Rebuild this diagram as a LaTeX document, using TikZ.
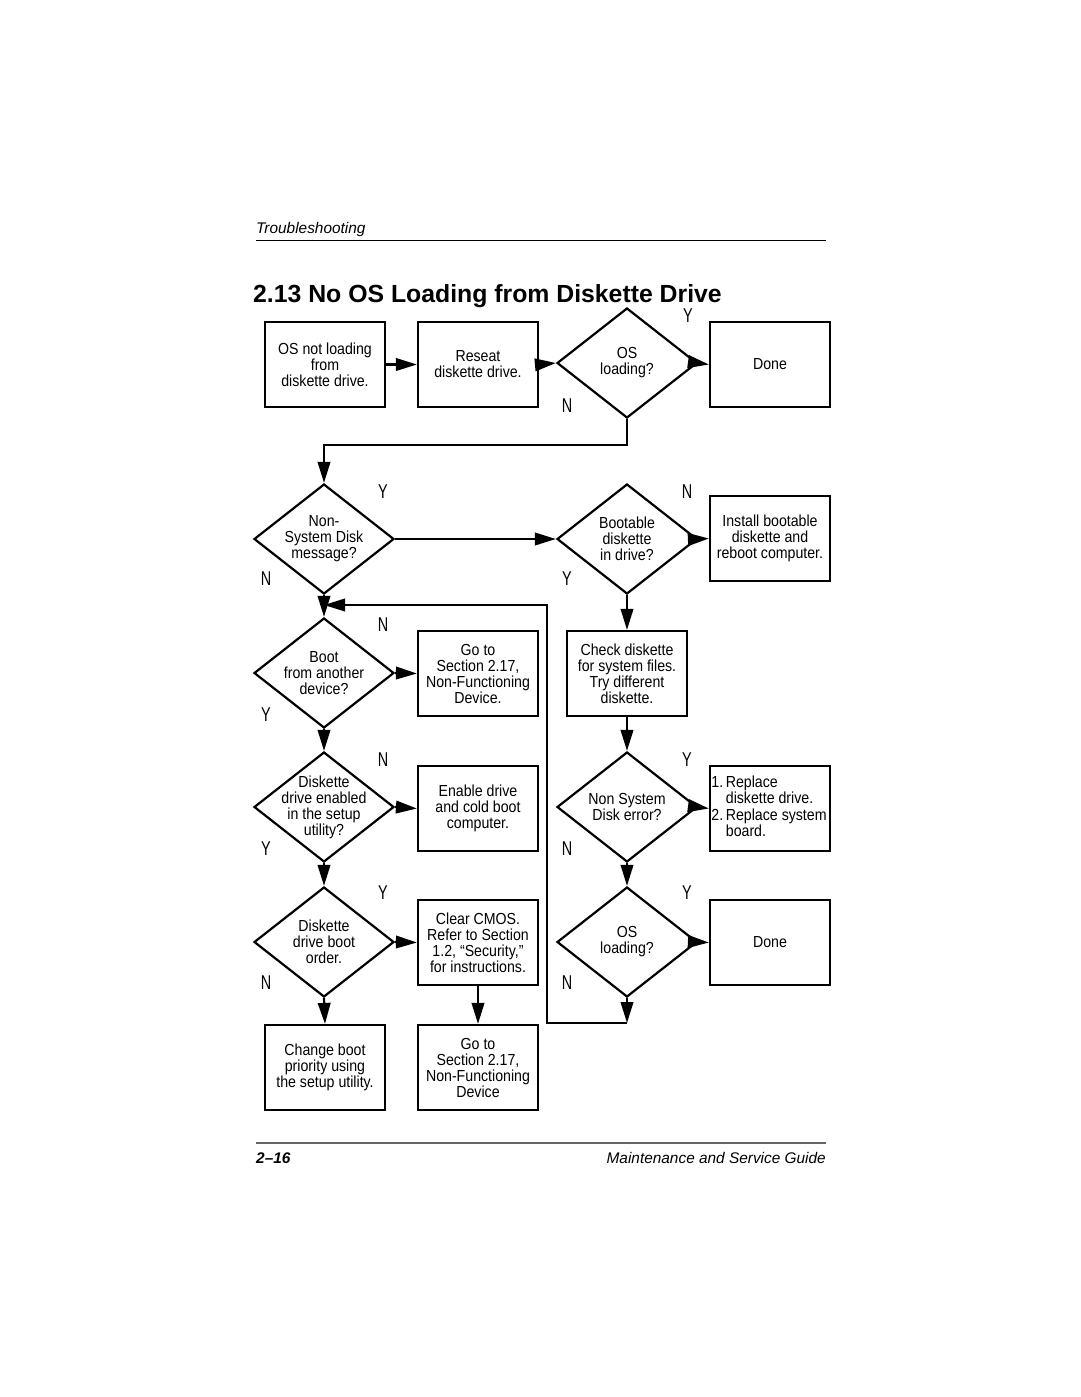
\documentclass[tikz,border=0pt]{standalone}
\usepackage{fontspec}
\setmainfont{Liberation Sans}
\newfontfamily\condfont{Liberation Sans}[FakeStretch=0.885]
\newfontfamily\ynfont{Liberation Sans}[FakeStretch=0.72]
\usetikzlibrary{arrows.meta,shapes.geometric}
\begin{document}
\begin{tikzpicture}[x=1pt,y=-1pt,
 box/.style={draw,line width=2.2pt,minimum width=120pt,minimum height=85pt,inner sep=2pt,align=center,font=\condfont\fontsize{16}{16}\selectfont},
 dec/.style={draw,diamond,line width=2.2pt,minimum width=140pt,minimum height=110pt,inner sep=0pt},
 dtext/.style={align=center,font=\condfont\fontsize{16}{16}\selectfont},
 yn/.style={font=\ynfont\fontsize{20}{20}\selectfont,inner sep=0pt},
 arr/.style={line width=2.2pt,-{Triangle[length=21pt,width=12.5pt]}}]
\useasboundingbox[fill=white] (0,0) rectangle (1080,1397);

% header / footer
\node[anchor=base west,font=\itshape\fontsize{15.4}{15}\selectfont,inner sep=0pt] (hdr) at (256,233) {Troubleshooting};
\draw[line width=1pt] (256,240) -- (826,240);
\node[anchor=base west,font=\bfseries\fontsize{24.8}{25}\selectfont,inner sep=0pt] (title) at (253,302) {2.13 No OS Loading from Diskette Drive};
\draw[line width=1.5pt,black!60] (256,1143) -- (826,1143);
\node[anchor=base west,font=\bfseries\itshape\fontsize{15.4}{15}\selectfont,inner sep=0pt] (pg) at (256,1163) {2–16};
\node[anchor=base east,font=\itshape\fontsize{15.4}{15}\selectfont,inner sep=0pt] (guide) at (826,1163) {Maintenance and Service Guide};

% row 1
\node[box] (b1) at (325,364.5) {OS not loading\\from\\diskette drive.};
\node[box] (b2) at (478,364.5) {Reseat\\diskette drive.};
\node[dec,label={[dtext]center:{OS\\loading?}}] (d1) at (627,363) {};
\node[box] (done1) at (770,364.5) {Done};

% row 2
\node[dec,label={[dtext]center:{Non-\\System Disk\\message?}}] (d2) at (324,539) {};
\node[dec,label={[dtext]center:{Bootable\\diskette\\in drive?}}] (d3) at (627,539) {};
\node[box] (install) at (770,538.5) {Install bootable\\diskette and\\reboot computer.};

% row 3
\node[dec,label={[dtext]center:{Boot\\from another\\device?}}] (d4) at (324,673) {};
\node[box] (goto1) at (478,673.5) {Go to\\Section 2.17,\\Non-Functioning\\Device.};
\node[box] (check) at (627,673.5) {Check diskette\\for system files.\\Try different\\diskette.};

% row 4
\node[dec,label={[dtext]center:{Diskette\\drive enabled\\in the setup\\utility?}}] (d5) at (324,807) {};
\node[box] (enable) at (478,808.5) {Enable drive\\and cold boot\\computer.};
\node[dec,label={[dtext]center:{Non System\\Disk error?}}] (d7) at (627,807) {};
\node[box,inner sep=1pt] (replace) at (770,808.5) {\begin{tabular}{@{}l@{\,}l@{}}1.&Replace\\&diskette drive.\\2.&Replace system\\&board.\end{tabular}\hspace*{2pt}};

% row 5
\node[dec,label={[dtext]center:{Diskette\\drive boot\\order.}}] (d6) at (324,942) {};
\node[box] (clear) at (478,942.5) {Clear CMOS.\\Refer to Section\\1.2, “Security,”\\for instructions.};
\node[dec,label={[dtext]center:{OS\\loading?}}] (d8) at (627,942) {};
\node[box] (done2) at (770,942.5) {Done};

% row 6
\node[box] (change) at (325,1067.5) {Change boot\\priority using\\the setup utility.};
\node[box] (goto2) at (478,1067.5) {Go to\\Section 2.17,\\Non-Functioning\\Device};

% Y/N labels
\node[yn] (l1y) at (688,316) {Y};
\node[yn] (l1n) at (567,406) {N};
\node[yn] (l2y) at (383,492) {Y};
\node[yn] (l2n) at (266,579) {N};
\node[yn] (l3n) at (687,492) {N};
\node[yn] (l3y) at (567,579) {Y};
\node[yn] (l4n) at (383,625) {N};
\node[yn] (l4y) at (266,715) {Y};
\node[yn] (l5n) at (383,760) {N};
\node[yn] (l5y) at (266,849) {Y};
\node[yn] (l7y) at (687,760) {Y};
\node[yn] (l7n) at (567,849) {N};
\node[yn] (l6y) at (383,893) {Y};
\node[yn] (l6n) at (266,983) {N};
\node[yn] (l8y) at (687,893) {Y};
\node[yn] (l8n) at (567,983) {N};

% helper coordinates
\coordinate (t1) at (627,445);
\coordinate (join) at (324,605);
\coordinate (c1) at (627,1023);
\coordinate (c2) at (547,605);

% connectors
\draw[arr] (b1.east) -- (b2.west);
\draw[arr] (b2.east) -- (d1.west);
\draw[arr] (d1.east) -- (done1.west);
\draw[arr] (d1.south) -- (t1) -| (d2.north);
\draw[arr] (d2.east) -- (d3.west);
\draw[arr] (d3.east) -- (install.west);
\draw[arr] (d3.south) -- (check.north);
\draw[arr] (check.south) -- (d7.north);
\draw[arr] (d7.east) -- (replace.west);
\draw[arr] (d7.south) -- (d8.north);
\draw[arr] (d8.east) -- (done2.west);
\draw[arr] (d8.south) -- (c1);
\draw[arr] (c1) -| (c2) -- (join);
\draw[arr] (d2.south) -- (d4.north);
\draw[arr] (d4.east) -- (goto1.west);
\draw[arr] (d4.south) -- (d5.north);
\draw[arr] (d5.east) -- (enable.west);
\draw[arr] (d5.south) -- (d6.north);
\draw[arr] (d6.east) -- (clear.west);
\draw[arr] (d6.south) -- (change.north);
\draw[arr] (clear.south) -- (goto2.north);
\end{tikzpicture}
\end{document}
